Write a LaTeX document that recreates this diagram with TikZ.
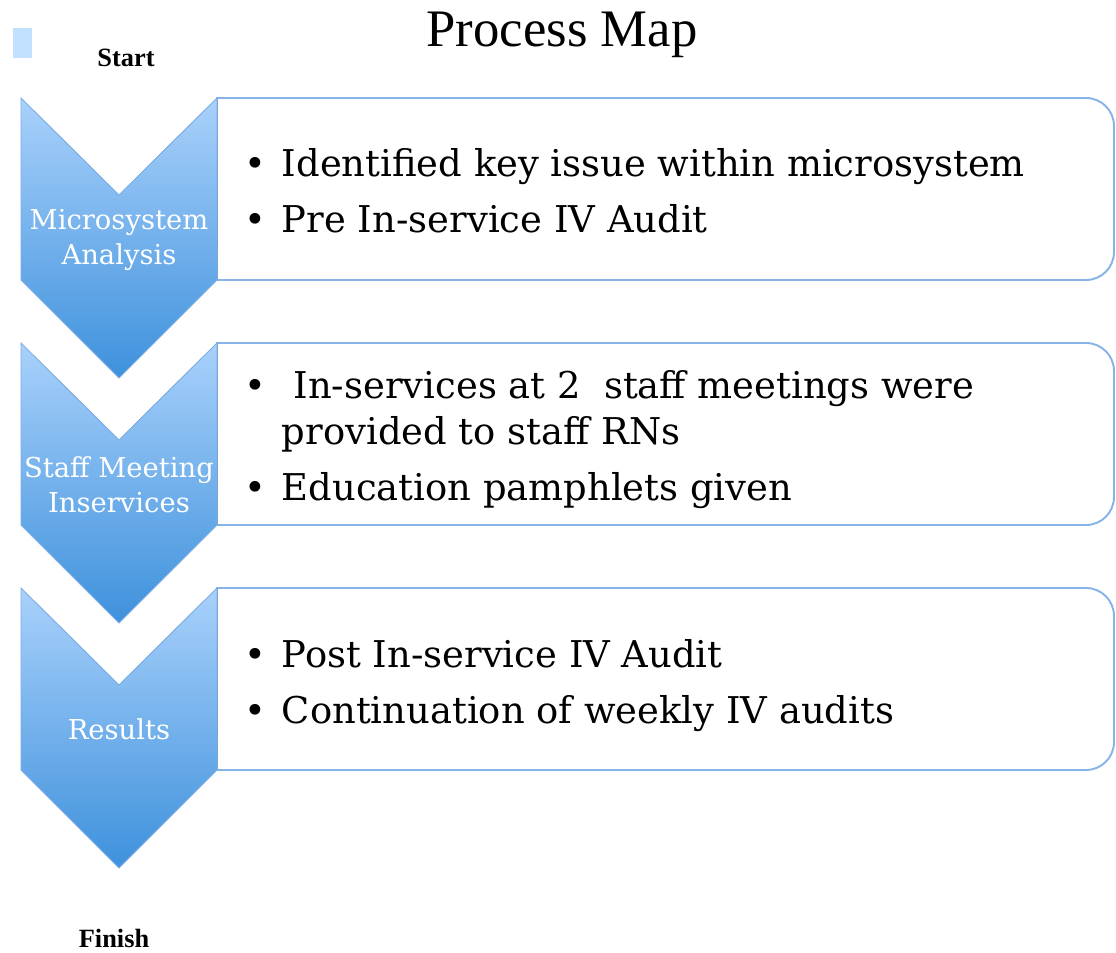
\documentclass[tikz,border=0pt]{standalone}
\usepackage{fontspec}
\setmainfont{Liberation Serif}
\newfontfamily\slabfont{DejaVu Serif}
\definecolor{chevtop}{HTML}{A9D1FB}
\definecolor{chevbot}{HTML}{3E91DC}
\definecolor{chevedge}{HTML}{7EAEE6}
\definecolor{paneledge}{HTML}{86B3E8}
\definecolor{marker}{HTML}{C2E1FF}
\tikzset{
  chevron/.style={draw=chevedge, line width=0.5pt, top color=chevtop, bottom color=chevbot},
  panel/.style={draw=paneledge, line width=1.1pt, fill=white},
  steplabel/.style={text=white, font=\slabfont\fontsize{15.6}{20}\selectfont, align=center},
  bullets/.style={anchor=west, inner sep=0pt, font=\slabfont\fontsize{21}{26.6}\selectfont},
  endlabel/.style={anchor=base, font=\bfseries\fontsize{15}{18}\selectfont}
}
\begin{document}
\begin{tikzpicture}[x=0.02cm, y=-0.02cm]
  \useasboundingbox (0, 0) rectangle (1116, 953);

  % title and ends
  \node[anchor=base, font=\fontsize{30}{36}\selectfont] (title) at (562, 47) {Process Map};
  \fill[marker] (13, 28) rectangle (32, 58);
  \node[endlabel] (start) at (126, 67) {Start};
  \node[endlabel] (finish) at (114, 947) {Finish};

  % step 1
  \begin{scope}
    \draw[panel] (217, 98) -- (1086, 98) .. controls (1101.5, 98) and (1114, 110.5) .. (1114, 126)
      -- (1114, 252) .. controls (1114, 267.5) and (1101.5, 280) .. (1086, 280) -- (217, 280) -- cycle;
    \filldraw[chevron] (21, 98) -- (119, 195) -- (217, 98) -- (217, 280) -- (119, 378) -- (21, 280) -- cycle;
  \end{scope}
  \node[steplabel] (analysis) at (119, 240) {Microsystem\\Analysis};
  \node[bullets] (analysislist) at (244, 195) {%
    \begin{tabular}{@{}l@{\hspace{9pt}}l@{}}
      • & Identified key issue within microsystem \\[5pt]
      • & Pre In-service IV Audit
    \end{tabular}};

  % step 2
  \begin{scope}[shift={(0, 245)}]
    \draw[panel] (217, 98) -- (1086, 98) .. controls (1101.5, 98) and (1114, 110.5) .. (1114, 126)
      -- (1114, 252) .. controls (1114, 267.5) and (1101.5, 280) .. (1086, 280) -- (217, 280) -- cycle;
    \filldraw[chevron] (21, 98) -- (119, 195) -- (217, 98) -- (217, 280) -- (119, 378) -- (21, 280) -- cycle;
  \end{scope}
  \node[steplabel] (inservices) at (119, 485) {Staff Meeting\\Inservices};
  \node[bullets] (inserviceslist) at (244, 440) {%
    \begin{tabular}{@{}l@{\hspace{9pt}}l@{}}
      • & \ In-services at 2\ \ staff meetings were \\
        & provided to staff RNs \\[5pt]
      • & Education pamphlets given
    \end{tabular}};

  % step 3
  \begin{scope}[shift={(0, 490)}]
    \draw[panel] (217, 98) -- (1086, 98) .. controls (1101.5, 98) and (1114, 110.5) .. (1114, 126)
      -- (1114, 252) .. controls (1114, 267.5) and (1101.5, 280) .. (1086, 280) -- (217, 280) -- cycle;
    \filldraw[chevron] (21, 98) -- (119, 195) -- (217, 98) -- (217, 280) -- (119, 378) -- (21, 280) -- cycle;
  \end{scope}
  \node[steplabel] (results) at (119, 729) {Results};
  \node[bullets] (resultslist) at (244, 686) {%
    \begin{tabular}{@{}l@{\hspace{9pt}}l@{}}
      • & Post In-service IV Audit \\[5pt]
      • & Continuation of weekly IV audits
    \end{tabular}};
\end{tikzpicture}
\end{document}
